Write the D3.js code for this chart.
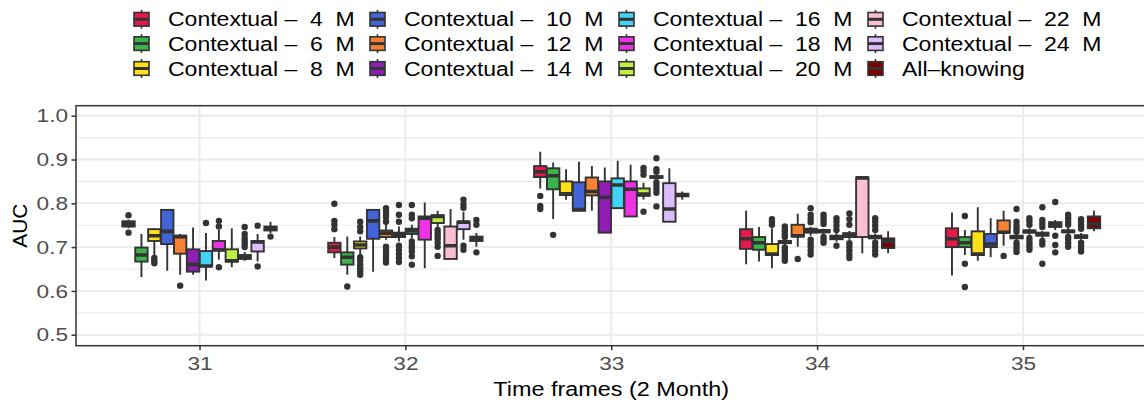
<!DOCTYPE html>
<html>
<head>
<meta charset="utf-8">
<script src="https://cdn.jsdelivr.net/npm/d3@7"></script>
<style>
  body { margin: 0; background: #fff; }
  svg { display: block; font-family: "Liberation Sans", Arial, sans-serif; }
</style>
</head>
<body>
<script>
const frames = ["31", "32", "33", "34", "35"];

const seriesNames = [
  "Contextual –  4  M", "Contextual –  6  M", "Contextual –  8  M",
  "Contextual –  10  M", "Contextual –  12  M", "Contextual –  14  M",
  "Contextual –  16  M", "Contextual –  18  M", "Contextual –  20  M",
  "Contextual –  22  M", "Contextual –  24  M", "All–knowing"
];

const seriesColors = [
  "#e6194B", "#3cb44b", "#ffe119", "#4363d8", "#f58231", "#911eb4",
  "#42d4f4", "#f032e6", "#bfef45", "#fabed4", "#dcbeff", "#800000"
];

const yTicks = [0.5, 0.6, 0.7, 0.8, 0.9, 1.0];

// one row per series: [lower whisker, q1, median, q3, upper whisker]
const box31 = [
  [0.743, 0.747, 0.753, 0.759, 0.763], [0.632, 0.667, 0.682, 0.699, 0.730],
  [0.679, 0.714, 0.726, 0.741, 0.743], [0.646, 0.707, 0.736, 0.785, 0.785],
  [0.637, 0.685, 0.724, 0.726, 0.730], [0.637, 0.644, 0.660, 0.695, 0.745],
  [0.624, 0.656, 0.657, 0.691, 0.732], [0.671, 0.692, 0.694, 0.714, 0.739],
  [0.654, 0.667, 0.669, 0.695, 0.743], [0.669, 0.673, 0.678, 0.682, 0.689],
  [0.667, 0.690, 0.712, 0.714, 0.730], [0.732, 0.738, 0.742, 0.747, 0.758]
];
const out31 = [
  [0.773, 0.733], [], [0.675, 0.669, 0.663], [], [0.612], [], [0.755],
  [0.760, 0.747, 0.654], [], [0.746, 0.730, 0.721, 0.714, 0.707, 0.700],
  [0.749, 0.656], [0.724]
];

const box32 = [
  [0.675, 0.688, 0.700, 0.710, 0.723], [0.637, 0.660, 0.677, 0.688, 0.724],
  [0.682, 0.697, 0.705, 0.713, 0.724], [0.644, 0.719, 0.760, 0.785, 0.787],
  [0.717, 0.723, 0.732, 0.738, 0.751], [0.713, 0.723, 0.728, 0.733, 0.747],
  [0.720, 0.730, 0.737, 0.742, 0.751], [0.652, 0.717, 0.766, 0.770, 0.802],
  [0.745, 0.755, 0.770, 0.773, 0.783], [0.673, 0.673, 0.703, 0.747, 0.787],
  [0.717, 0.741, 0.757, 0.758, 0.781], [0.701, 0.714, 0.719, 0.724, 0.732]
];
const out32 = [
  [0.799, 0.760, 0.751, 0.741], [0.610],
  [0.758, 0.746, 0.736, 0.677, 0.669, 0.660, 0.652, 0.645, 0.637], [],
  [0.789, 0.783, 0.776, 0.769, 0.758, 0.701, 0.694, 0.687, 0.680, 0.673, 0.665],
  [0.796, 0.774, 0.758, 0.703, 0.694, 0.685, 0.676, 0.666],
  [0.796, 0.774, 0.766, 0.713, 0.705, 0.698, 0.690, 0.679, 0.660], [],
  [0.739, 0.732, 0.726, 0.719, 0.710, 0.701, 0.680], [],
  [0.808, 0.798, 0.790, 0.703, 0.694], [0.762, 0.751, 0.688]
];

const box33 = [
  [0.834, 0.860, 0.872, 0.885, 0.918], [0.764, 0.832, 0.863, 0.880, 0.893],
  [0.808, 0.819, 0.822, 0.850, 0.878], [0.783, 0.783, 0.786, 0.848, 0.895],
  [0.783, 0.818, 0.827, 0.859, 0.885], [0.733, 0.733, 0.814, 0.850, 0.882],
  [0.789, 0.789, 0.842, 0.857, 0.897], [0.770, 0.770, 0.832, 0.850, 0.888],
  [0.809, 0.817, 0.821, 0.834, 0.847], [0.855, 0.858, 0.860, 0.862, 0.865],
  [0.758, 0.758, 0.787, 0.846, 0.880], [0.808, 0.816, 0.819, 0.822, 0.827]
];
const out33 = [
  [0.817, 0.794, 0.787], [0.728], [], [], [], [], [], [],
  [0.881, 0.874, 0.865, 0.781],
  [0.903, 0.878, 0.872, 0.848, 0.840, 0.832, 0.824, 0.793], [], []
];

const box34 = [
  [0.661, 0.696, 0.719, 0.741, 0.783], [0.667, 0.694, 0.710, 0.723, 0.746],
  [0.652, 0.682, 0.684, 0.707, 0.743], [0.703, 0.709, 0.711, 0.714, 0.719],
  [0.701, 0.724, 0.726, 0.751, 0.776], [0.726, 0.733, 0.737, 0.742, 0.746],
  [0.729, 0.734, 0.736, 0.739, 0.742], [0.712, 0.718, 0.722, 0.726, 0.732],
  [0.717, 0.723, 0.728, 0.732, 0.737], [0.686, 0.723, 0.858, 0.859, 0.859],
  [0.717, 0.720, 0.723, 0.726, 0.731], [0.686, 0.698, 0.713, 0.720, 0.736]
];
const out34 = [
  [], [], [0.764, 0.758, 0.751],
  [0.747, 0.741, 0.735, 0.729, 0.723, 0.699, 0.693, 0.687, 0.681, 0.675, 0.669],
  [0.673], [0.789, 0.774, 0.765, 0.757, 0.717, 0.709, 0.701, 0.692, 0.683],
  [0.774, 0.767, 0.760, 0.753, 0.723, 0.717, 0.710],
  [0.766, 0.758, 0.749, 0.739, 0.703],
  [0.777, 0.764, 0.751, 0.709, 0.701, 0.692, 0.683, 0.675], [],
  [0.766, 0.758, 0.749, 0.739, 0.710, 0.701, 0.692, 0.683], []
];

const box35 = [
  [0.635, 0.700, 0.719, 0.743, 0.779], [0.682, 0.700, 0.710, 0.723, 0.739],
  [0.669, 0.682, 0.684, 0.736, 0.791], [0.677, 0.700, 0.707, 0.730, 0.766],
  [0.703, 0.733, 0.734, 0.761, 0.783], [0.715, 0.720, 0.723, 0.726, 0.730],
  [0.728, 0.733, 0.736, 0.738, 0.743], [0.721, 0.726, 0.730, 0.733, 0.737],
  [0.739, 0.746, 0.751, 0.757, 0.762], [0.728, 0.734, 0.736, 0.738, 0.744],
  [0.717, 0.721, 0.724, 0.727, 0.732], [0.736, 0.743, 0.753, 0.770, 0.783]
];
const out35 = [
  [], [0.771, 0.662, 0.609], [], [], [0.680],
  [0.787, 0.758, 0.749, 0.742, 0.735, 0.710, 0.703, 0.696, 0.689],
  [0.766, 0.759, 0.751, 0.721, 0.714, 0.707, 0.701, 0.694],
  [0.791, 0.762, 0.754, 0.746, 0.714, 0.706, 0.662],
  [0.803, 0.726, 0.705, 0.688],
  [0.774, 0.766, 0.758, 0.751, 0.723, 0.717, 0.709, 0.701],
  [0.764, 0.758, 0.750, 0.742, 0.710, 0.703, 0.696, 0.690], []
];

const boxStats = { "31": box31, "32": box32, "33": box33, "34": box34, "35": box35 };
const outlierStats = { "31": out31, "32": out32, "33": out33, "34": out34, "35": out35 };

const W = 1144, H = 403;
const panel = { left: 76, right: 1146.5, top: 105.7, bottom: 345.7 };
const ink = "#333333";
const widen = 1.19; // reference text is drawn a bit wider than Liberation Sans

// stretch horizontal text to the reference's wider glyphs
function stretch(sel, k) {
  sel.each(function () {
    const len = this.getComputedTextLength();
    d3.select(this).attr("textLength", len * k).attr("lengthAdjust", "spacingAndGlyphs");
  });
}

const svg = d3.select("body").append("svg").attr("width", W).attr("height", H);

const x = d3.scalePoint().domain(frames).range([panel.left, panel.right]).padding(0.6);
const step = x.step();
const dodge = d3.scaleBand().domain(d3.range(seriesNames.length))
  .range([-0.375 * step, 0.375 * step]).paddingInner(0.04);
const y = d3.scaleLinear().domain([0.4749, 1.0229]).range([panel.bottom, panel.top]);

svg.append("clipPath").attr("id", "pclip").append("rect")
  .attr("x", panel.left).attr("y", panel.top)
  .attr("width", panel.right - panel.left).attr("height", panel.bottom - panel.top);

// grid
const grid = svg.append("g");
const minorTicks = [0.55, 0.65, 0.75, 0.85, 0.95];
grid.selectAll(".minor").data(minorTicks).join("line")
  .attr("x1", panel.left).attr("x2", panel.right)
  .attr("y1", d => y(d)).attr("y2", d => y(d))
  .attr("stroke", "#ebebeb").attr("stroke-width", 1.1);
grid.selectAll(".major").data(yTicks).join("line")
  .attr("x1", panel.left).attr("x2", panel.right)
  .attr("y1", d => y(d)).attr("y2", d => y(d))
  .attr("stroke", "#ebebeb").attr("stroke-width", 1.9);
grid.selectAll(".vmajor").data(frames).join("line")
  .attr("x1", d => x(d)).attr("x2", d => x(d))
  .attr("y1", panel.top).attr("y2", panel.bottom)
  .attr("stroke", "#ebebeb").attr("stroke-width", 1.9);

// boxplots
const plot = svg.append("g").attr("clip-path", "url(#pclip)");
const bw = dodge.bandwidth();
const boxes = frames.flatMap(f => boxStats[f].map((s, i) => ({
  f, i, lo: s[0], q1: s[1], med: s[2], q3: s[3], hi: s[4],
  out: outlierStats[f][i], cx: x(f) + dodge(i) + bw / 2
})));

const g = plot.selectAll(".bx").data(boxes).join("g").attr("class", "bx");
g.each(function (d) {
  const sel = d3.select(this);
  sel.selectAll("circle").data(d.out).join("circle")
    .attr("cx", d.cx).attr("cy", v => y(v)).attr("r", 3.2).attr("fill", ink);
  sel.append("line").attr("x1", d.cx).attr("x2", d.cx)
    .attr("y1", y(d.hi)).attr("y2", y(d.q3)).attr("stroke", ink).attr("stroke-width", 1.9);
  sel.append("line").attr("x1", d.cx).attr("x2", d.cx)
    .attr("y1", y(d.q1)).attr("y2", y(d.lo)).attr("stroke", ink).attr("stroke-width", 1.9);
  sel.append("rect").attr("x", d.cx - bw / 2).attr("width", bw)
    .attr("y", y(d.q3)).attr("height", Math.max(0.5, y(d.q1) - y(d.q3)))
    .attr("fill", seriesColors[d.i]).attr("stroke", ink).attr("stroke-width", 1.9);
  sel.append("line").attr("x1", d.cx - bw / 2).attr("x2", d.cx + bw / 2)
    .attr("y1", y(d.med)).attr("y2", y(d.med)).attr("stroke", ink).attr("stroke-width", 3.6);
});

// panel border
svg.append("rect").attr("x", panel.left).attr("y", panel.top)
  .attr("width", panel.right - panel.left).attr("height", panel.bottom - panel.top)
  .attr("fill", "none").attr("stroke", ink).attr("stroke-width", 1.5);

// axes
const yAxis = svg.append("g").attr("transform", `translate(${panel.left},0)`)
  .call(d3.axisLeft(y).tickValues(yTicks).tickFormat(d3.format(".1f")).tickSize(4.5).tickPadding(3.5));
const xAxis = svg.append("g").attr("transform", `translate(0,${panel.bottom})`)
  .call(d3.axisBottom(x).tickSize(4.5).tickPadding(6));
[yAxis, xAxis].forEach(a => {
  a.select(".domain").remove();
  a.selectAll(".tick line").attr("stroke", ink).attr("stroke-width", 1.5);
  a.selectAll(".tick text").attr("fill", "#4d4d4d").attr("font-size", "19px")
    .attr("font-family", "Liberation Sans, Arial, sans-serif")
    .call(stretch, widen);
});

svg.append("text").attr("x", (panel.left + panel.right) / 2).attr("y", 396)
  .attr("text-anchor", "middle").attr("font-size", "20px").text("Time frames (2 Month)")
  .call(stretch, 1.17);
svg.append("text").attr("transform", `translate(27,${(panel.top + panel.bottom) / 2}) rotate(-90)`)
  .attr("text-anchor", "middle").attr("font-size", "21px").text("AUC");

// legend: 3 rows, filled column by column
const colX = [133, 369, 618, 867];
const rowY = [19.3, 43.6, 68.5];
const leg = svg.append("g");
const items = leg.selectAll(".li").data(seriesNames).join("g")
  .attr("transform", (d, i) => `translate(${colX[Math.floor(i / 3)]},${rowY[i % 3]})`);
items.append("line").attr("x1", 8.5).attr("x2", 8.5).attr("y1", -9.5).attr("y2", 9.5)
  .attr("stroke", ink).attr("stroke-width", 1.6);
items.append("rect").attr("x", 1).attr("y", -6.8).attr("width", 15).attr("height", 13.6)
  .attr("fill", (d, i) => seriesColors[i]).attr("stroke", ink).attr("stroke-width", 1.6);
items.append("line").attr("x1", 1).attr("x2", 16).attr("y1", 0).attr("y2", 0)
  .attr("stroke", ink).attr("stroke-width", 3);
items.append("text").attr("x", 35).attr("y", 7).attr("font-size", "19.5px")
  .style("white-space", "pre").text(d => d)
  .call(stretch, 1.18);
</script>
</body>
</html>
